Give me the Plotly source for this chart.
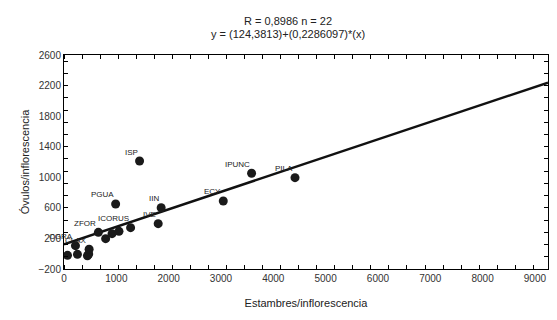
import plotly.graph_objects as go

# Data
estambres = [67, 219, 257, 448, 472, 480, 657, 796, 918, 1051, 1273, 987, 1444, 1857, 1800, 3044, 3585, 4415]
ovulos = [-21, 105, -8, -26, -4, 58, 280, 197, 262, 293, 341, 651, 1213, 602, 393, 690, 1053, 995]
etiquetas = ["", "CGRA", "", "", "", "CLAX", "ZFOR", "", "", "", "ICORUS", "PGUA", "ISP", "IIN", "IVE", "ECY", "IPUNC", "PILA"]

intercept = 124.3813
slope = 0.2286097
x_range = [0, 9250]
y_range = [-200, 2600]
x_ticks = [0, 1000, 2000, 3000, 4000, 5000, 6000, 7000, 8000, 9000]
y_ticks = [-200, 200, 600, 1000, 1400, 1800, 2200, 2600]

font_family = "Liberation Sans, Arial, sans-serif"

fig = go.Figure()

fig.add_trace(go.Scatter(
    x=[x_range[0], x_range[1]],
    y=[intercept + slope * x_range[0], intercept + slope * x_range[1]],
    mode="lines",
    line=dict(color="#111111", width=2.5),
    hoverinfo="skip",
    showlegend=False,
))

fig.add_trace(go.Scatter(
    x=estambres, y=ovulos,
    mode="markers",
    marker=dict(color="#1a1a1a", size=9),
    showlegend=False,
    cliponaxis=False,
))

for xv, yv, lab in zip(estambres, ovulos, etiquetas):
    if lab:
        fig.add_annotation(
            x=xv, y=yv, text=lab, showarrow=False,
            xanchor="right", yanchor="middle", xshift=0, yshift=9,
            font=dict(family=font_family, size=8, color="#222222"),
        )

axis_common = dict(
    showline=True, linecolor="black", linewidth=1, mirror="allticks",
    showgrid=False, zeroline=False, automargin=False,
    ticks="", tickfont=dict(family=font_family, size=10, color="#333333"),
)

fig.update_xaxes(
    range=x_range, tickvals=x_ticks,
    title=dict(text="Estambres/inflorescencia", font=dict(family=font_family, size=11, color="#222222"), standoff=16),
    minor=dict(ticks="inside", dtick=345, tick0=0, ticklen=4, tickcolor="black", showgrid=False),
    **axis_common,
)
fig.update_yaxes(
    range=y_range, tickvals=y_ticks,
    title=dict(text="Óvulos/inflorescencia", font=dict(family=font_family, size=11, color="#222222"), standoff=6),
    minor=dict(ticks="inside", dtick=160, tick0=-200, ticklen=4, tickcolor="black", showgrid=False),
    **axis_common,
)

fig.add_annotation(text="R = 0,8986 n = 22", xref="paper", yref="paper", x=0.463, y=1.159,
                   xanchor="center", yanchor="middle",
                   showarrow=False, font=dict(family=font_family, size=11, color="#222222"))
fig.add_annotation(text="y = (124,3813)+(0,2286097)*(x)", xref="paper", yref="paper", x=0.463, y=1.098,
                   xanchor="center", yanchor="middle",
                   showarrow=False, font=dict(family=font_family, size=11, color="#222222"))

fig.update_layout(
    width=557, height=320,
    margin=dict(l=64, r=9, t=55, b=51),
    paper_bgcolor="white", plot_bgcolor="white",
    showlegend=False,
)

fig.write_html("out.html", config={"displayModeBar": False},
               post_script="document.body.style.margin='0px';")
